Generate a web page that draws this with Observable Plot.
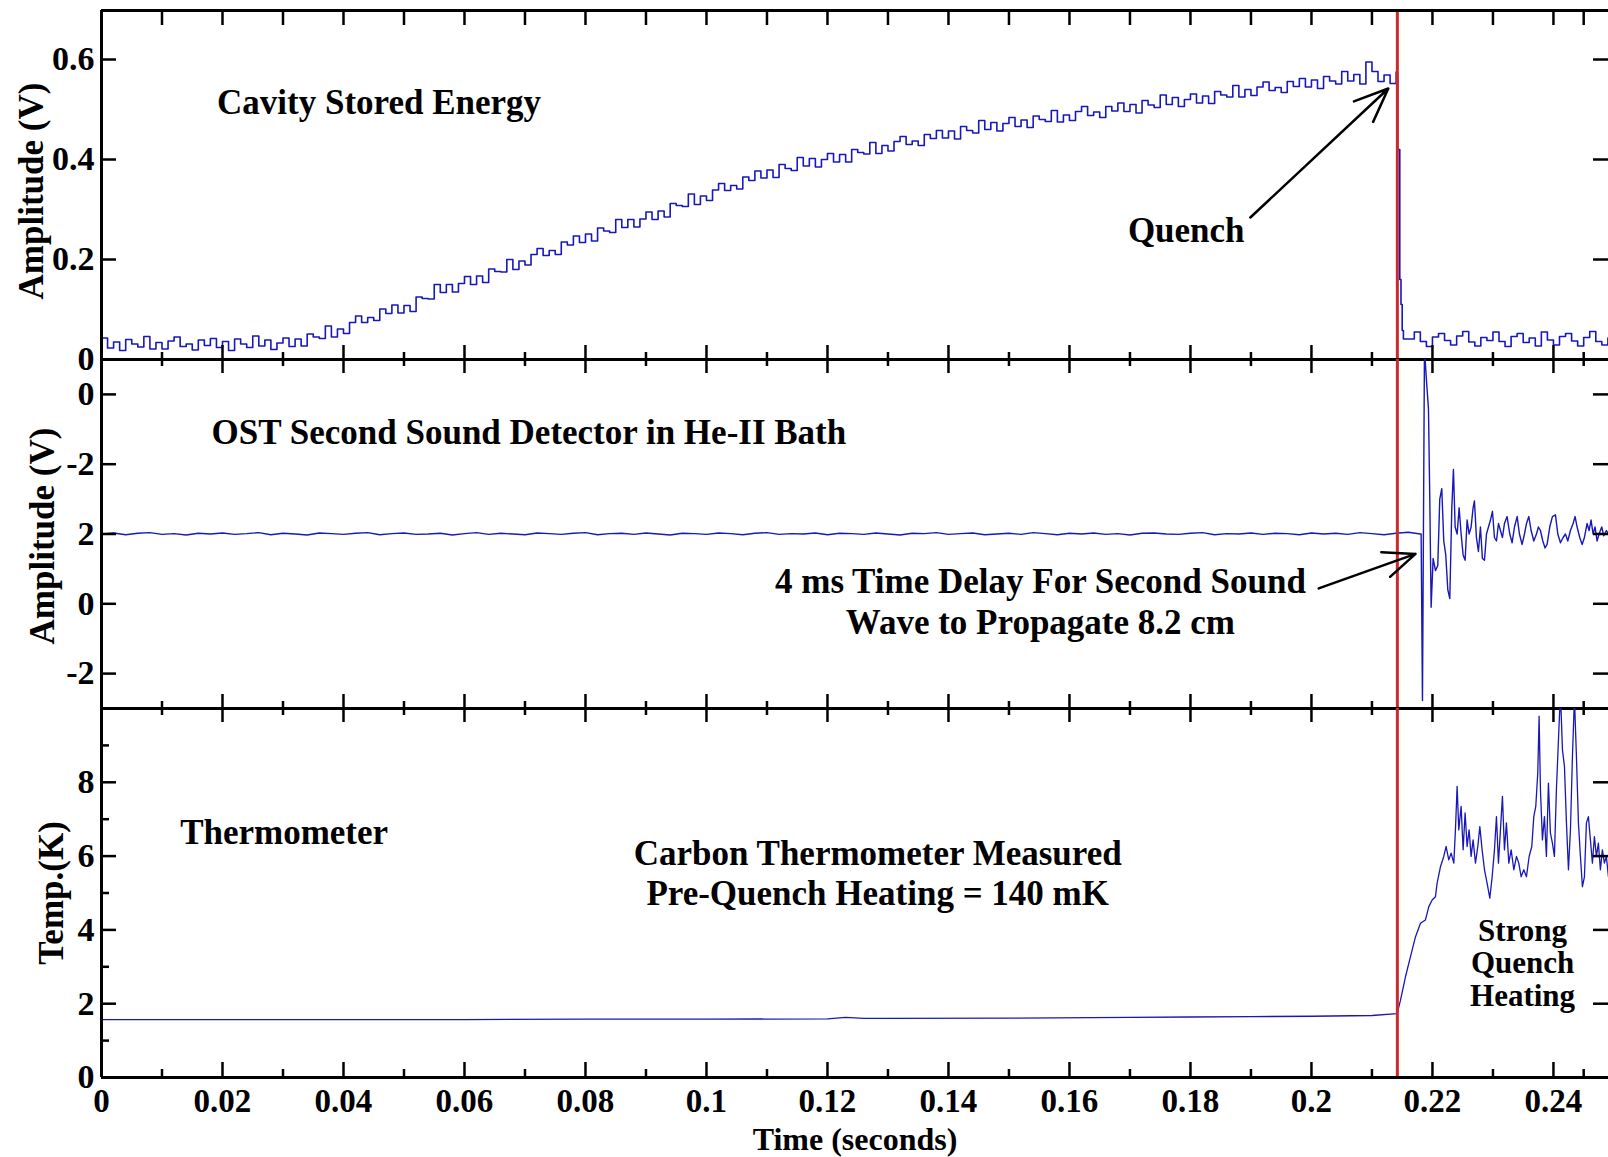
<!DOCTYPE html>
<html><head><meta charset="utf-8">
<script src="https://cdn.jsdelivr.net/npm/d3@7"></script>
<script src="https://cdn.jsdelivr.net/npm/@observablehq/plot@0.6"></script>
<style>
html,body{margin:0;padding:0;background:#fff;}
#chart{position:relative;width:1608px;height:1157px;overflow:hidden;background:#fff;}
#chart svg{position:absolute;left:0;}
</style></head><body><div id="chart"></div>
<script>
// ---------------- DATA ----------------
const quenchTime = 0.2142;

// x axis
const xMajor = [0, 0.02, 0.04, 0.06, 0.08, 0.1, 0.12, 0.14, 0.16, 0.18, 0.2, 0.22, 0.24];
const xMinor = [0.01, 0.03, 0.05, 0.07, 0.09, 0.11, 0.13, 0.15, 0.17, 0.19, 0.21, 0.23, 0.245];
const xTickLabels = ["0", "0.02", "0.04", "0.06", "0.08", "0.1", "0.12", "0.14", "0.16", "0.18", "0.2", "0.22", "0.24"];

// Panel 1: cavity stored energy (V), sampled every 1 ms from t = 0
const energySampleStep = 0.001;
const energyRise = [
  0.043,0.023,0.035,0.018,0.040,0.031,0.025,0.046,0.021,0.034,
  0.021,0.037,0.045,0.026,0.031,0.019,0.039,0.028,0.042,0.024,
  0.036,0.018,0.041,0.031,0.024,0.047,0.027,0.039,0.020,0.033,
  0.043,0.026,0.041,0.027,0.051,0.045,0.042,0.067,0.045,0.061,
  0.052,0.074,0.087,0.074,0.084,0.078,0.101,0.092,0.109,0.093,
  0.108,0.096,0.125,0.122,0.121,0.150,0.134,0.150,0.135,0.152,
  0.166,0.150,0.167,0.154,0.181,0.176,0.175,0.200,0.180,0.197,
  0.189,0.210,0.222,0.208,0.218,0.210,0.235,0.229,0.247,0.234,
  0.251,0.237,0.263,0.257,0.254,0.280,0.264,0.280,0.265,0.281,
  0.295,0.280,0.297,0.285,0.312,0.308,0.306,0.331,0.310,0.327,
  0.318,0.339,0.352,0.338,0.348,0.341,0.365,0.358,0.377,0.363,
  0.379,0.364,0.390,0.382,0.378,0.404,0.387,0.402,0.385,0.400,
  0.412,0.395,0.410,0.395,0.420,0.414,0.411,0.434,0.412,0.428,
  0.417,0.436,0.446,0.430,0.437,0.428,0.450,0.442,0.458,0.443,
  0.457,0.441,0.466,0.458,0.453,0.478,0.460,0.474,0.457,0.472,
  0.484,0.466,0.479,0.464,0.487,0.480,0.476,0.498,0.475,0.489,
  0.478,0.496,0.506,0.488,0.495,0.484,0.506,0.497,0.513,0.496,
  0.510,0.493,0.518,0.509,0.504,0.529,0.510,0.524,0.506,0.520,
  0.531,0.513,0.527,0.512,0.536,0.529,0.525,0.548,0.525,0.540,
  0.528,0.545,0.555,0.538,0.544,0.534,0.556,0.546,0.562,0.545,
  0.559,0.542,0.566,0.557,0.551,0.576,0.557,0.570,0.551,0.595,
  0.576,0.556,0.569,0.552,0.575
];
const energyDropT = [0.2142, 0.21425, 0.21444, 0.2146, 0.2148, 0.2150, 0.2152];
const energyDropV = [0.566, 0.420, 0.420, 0.160, 0.110, 0.058, 0.041];
const energyTailStart = 0.216;
const energyTail = [
  0.041,0.055,0.036,0.026,0.045,0.052,0.038,0.029,0.047,0.056,
  0.035,0.027,0.044,0.038,0.055,0.036,0.026,0.046,0.052,0.034,
  0.043,0.027,0.055,0.039,0.029,0.046,0.052,0.037,0.027,0.044,
  0.056,0.036,0.029,0.043
];

// Panel 2: OST second sound detector (V), before the wave arrives, every 2 ms
const ostSampleStep = 0.002;
const ostBefore = [
  2.00,2.03,1.98,2.02,2.04,1.99,2.01,1.97,2.02,2.00,
  2.03,1.99,2.01,2.04,1.98,2.02,2.00,1.97,2.03,2.01,
  1.99,2.02,2.04,1.98,2.01,2.03,1.99,2.00,2.02,1.97,
  2.01,2.04,1.99,2.02,2.00,1.98,2.03,2.01,1.99,2.02,
  2.04,1.98,2.01,2.02,1.99,2.03,2.00,1.97,2.02,2.01,
  1.99,2.03,2.01,1.98,2.02,2.04,1.99,2.01,2.00,2.03,
  1.98,2.02,2.01,1.99,2.03,2.00,1.97,2.02,2.01,2.04,
  1.99,2.01,2.03,1.98,2.00,2.02,1.99,2.04,2.01,1.98,
  2.02,2.00,2.03,1.99,2.01,1.97,2.02,2.03,2.00,1.99,
  2.02,2.04,1.98,2.01,2.00,2.03,1.99,2.02,2.01,1.98,
  2.03,2.00,2.02,1.99,2.04,2.01,1.98,2.02,2.05,2.00
];
const ostRingT = [
  0.21813,0.21835,0.21868,0.21901,0.21934,0.21956,0.21978,0.22011,0.2205,0.22088,
  0.22121,0.22154,0.22187,0.2222,0.22254,0.22287,0.2232,0.22347,0.22375,0.22408,
  0.22441,0.22474,0.22507,0.2254,0.22573,0.22606,0.22639,0.22672,0.22694,0.22727,
  0.2276,0.22793,0.22826,0.2286,0.22893,0.22926,0.22959,0.22992,0.23025,0.23058,
  0.23091,0.23124,0.23157,0.2319,0.23234,0.23278,0.23317,0.23356,0.234,0.23438,
  0.23482,0.23521,0.23554,0.23593,0.23631,0.23675,0.23719,0.23752,0.23785,0.23824,
  0.23862,0.23895,0.23939,0.23983,0.24033,0.24072,0.24116,0.2416,0.24198,0.24237,
  0.24281,0.24325,0.24358,0.24391,0.24435,0.24474,0.24512,0.24556,0.24589,0.24622,
  0.24655,0.24688,0.24721,0.24754,0.24798,0.24832,0.24875,0.24909
];
const ostRingV = [
  2.0,-2.77,7.3,6.4,5.6,3.0,-0.1,1.3,0.95,1.1,
  3.0,3.3,1.8,1.4,0.4,0.15,2.75,3.85,2.2,2.0,
  2.75,2.0,1.4,1.25,2.4,2.0,2.2,2.75,2.95,1.9,
  1.5,2.2,1.3,1.25,2.0,2.2,2.4,2.65,1.9,1.8,
  2.3,2.1,1.9,2.3,2.5,2.0,1.75,2.2,2.5,2.0,
  1.7,2.0,2.3,2.5,2.1,1.8,2.0,2.2,2.1,1.8,
  1.6,1.7,2.2,2.5,2.55,2.0,1.75,1.9,2.0,1.8,
  2.1,2.3,2.5,2.2,1.9,1.7,1.9,2.3,2.1,2.4,
  2.0,2.2,1.8,2.0,2.2,1.95,2.1,2.0
];

// Panel 3: carbon thermometer (K)
const tempBeforeT = [0, 0.02, 0.04, 0.06, 0.08, 0.1, 0.12, 0.123, 0.126, 0.13, 0.15, 0.17, 0.18, 0.19, 0.2, 0.21];
const tempBeforeV = [1.57, 1.57, 1.57, 1.57, 1.58, 1.58, 1.59, 1.63, 1.60, 1.60, 1.61, 1.63, 1.64, 1.65, 1.66, 1.68];
const tempAfterT = [
  0.21416,0.21471,0.21554,0.21636,0.21719,0.21802,0.21884,0.2194,0.21995,0.2205,
  0.22077,0.22132,0.22187,0.22226,0.2227,0.22309,0.22353,0.2238,0.22408,0.22435,
  0.22474,0.22507,0.2254,0.22573,0.22606,0.22639,0.22672,0.22711,0.2275,0.22783,
  0.22821,0.2286,0.22904,0.22948,0.22987,0.23025,0.23058,0.23091,0.23124,0.23157,
  0.2319,0.23223,0.23262,0.23301,0.23345,0.23389,0.23427,0.23466,0.2351,0.23554,
  0.23598,0.23642,0.23675,0.23708,0.23741,0.23763,0.23785,0.23818,0.23851,0.23884,
  0.23917,0.2395,0.23983,0.24016,0.24049,0.24094,0.24116,0.24149,0.24182,0.24215,
  0.24248,0.24281,0.24314,0.24347,0.2438,0.24413,0.24446,0.24479,0.24512,0.24545,
  0.24578,0.24611,0.24644,0.24677,0.2471,0.24743,0.24776,0.24809,0.24842,0.24875,
  0.24909
];
const tempAfterV = [
  1.73,2.09,2.73,3.27,3.81,4.18,4.27,4.63,4.81,4.9,
  5.27,5.71,5.99,6.26,5.9,6.08,5.81,6.71,7.89,6.71,
  7.35,6.17,7.17,6.26,6.71,5.99,6.44,5.81,6.26,6.8,
  6.17,5.63,5.26,4.86,5.44,6.17,7.07,5.81,6.71,7.62,
  6.17,6.9,5.81,6.17,5.63,5.99,5.81,5.44,5.63,5.44,
  5.99,6.26,7.07,7.35,8.26,9.79,7.8,6.44,7.07,5.99,
  7.98,6.62,6.35,5.99,7.8,9.6,10.4,8.88,8.43,6.9,
  5.63,6.71,8.7,10.3,8.7,6.9,5.99,5.17,5.44,6.9,
  7.07,6.44,5.81,6.53,5.99,6.35,5.63,6.17,5.81,5.99,
  5.44
];

// y ticks
const energyTicks = [0.2, 0.4, 0.6];
const energyLabelValues = [0, 0.2, 0.4, 0.6];
const energyLabels = ["0", "0.2", "0.4", "0.6"];
const ostTicks = [6, 4, 2, 0, -2];
const ostLabels = ["0", "-2", "2", "0", "-2"];
const tempMajor = [2, 4, 6, 8];
const tempMinor = [1, 3, 5, 7, 9];
const tempLabelValues = [0, 2, 4, 6, 8];
const tempLabels = ["0", "2", "4", "6", "8"];

// annotations
const energyTitle = [{t: 0.0191, v: 0.513, label: "Cavity Stored Energy"}];
const energyNotes = [{t: 0.1793, v: 0.258, label: "Quench"}];
const energyArrow = [{t1: 0.1899, v1: 0.284, t2: 0.2127, v2: 0.542}];
const ostTitle = [{t: 0.0182, v: 4.9, label: "OST Second Sound Detector in He-II Bath"}];
const ostNotes = [
  {t: 0.1552, v: 0.62, label: "4 ms Time Delay For Second Sound"},
  {t: 0.1552, v: -0.53, label: "Wave to Propagate 8.2 cm"}
];
const ostArrow = [{t1: 0.2012, v1: 0.44, t2: 0.2172, v2: 1.43}];
const tempTitle = [{t: 0.0130, v: 6.64, label: "Thermometer"}];
const tempNotes = [
  {t: 0.1283, v: 6.07, label: "Carbon Thermometer Measured"},
  {t: 0.1283, v: 4.99, label: "Pre-Quench Heating = 140 mK"}
];
const tempSideNotes = [
  {t: 0.2349, v: 3.98, label: "Strong"},
  {t: 0.2349, v: 3.09, label: "Quench"},
  {t: 0.2349, v: 2.20, label: "Heating"}
];

// ---------------- BUILD ROWS ----------------
const energyData = [
  ...energyRise.map((v, i) => ({t: i * energySampleStep, v})),
  ...energyDropT.map((t, i) => ({t, v: energyDropV[i]})),
  ...energyTail.map((v, i) => ({t: energyTailStart + i * energySampleStep, v}))
];
const ostData = [
  ...ostBefore.map((v, i) => ({t: i * ostSampleStep, v})),
  ...ostRingT.map((t, i) => ({t, v: ostRingV[i]}))
];
const tempData = [
  ...tempBeforeT.map((t, i) => ({t, v: tempBeforeV[i]})),
  ...tempAfterT.map((t, i) => ({t, v: tempAfterV[i]}))
];

// ---------------- STYLE / LAYOUT ----------------
const W = 1608, ML = 101, MR = 0;
const innerW = W - ML - MR;
const xDomain = [0, 0.2491];
const FONT = "'Liberation Serif','Times New Roman',Times,serif";
const TRACE = "#1818b8";
const RED = "#cc2a2a";
const TW = 2.5; // tick stroke width

function xTickMarks(innerH, side, majorLen, minorLen) {
  const inset = len => side === "top" ? {insetBottom: innerH - len} : {insetTop: innerH - len};
  return [
    Plot.ruleX(xMajor, {x: d => d, stroke: "black", strokeWidth: TW, ...inset(majorLen)}),
    Plot.ruleX(xMinor, {x: d => d, stroke: "black", strokeWidth: TW, ...inset(minorLen)})
  ];
}
function yTickMarks(values, len) {
  return [
    Plot.ruleY(values, {y: d => d, stroke: "black", strokeWidth: TW, insetRight: innerW - len}),
    Plot.ruleY(values, {y: d => d, stroke: "black", strokeWidth: TW, insetLeft: innerW - len})
  ];
}
function yLabels(values, labels) {
  return Plot.text(values, {y: d => d, text: (d, i) => labels[i], frameAnchor: "left", dx: -7,
    textAnchor: "end", lineAnchor: "middle", fontSize: 34, fontWeight: "bold"});
}
function yTitle(label, dx, dy) {
  return Plot.text([label], {frameAnchor: "left", rotate: -90, dx, dy, textAnchor: "middle",
    lineAnchor: "middle", fontSize: 35, fontWeight: "bold"});
}
function note(data, anchor, size = 35) {
  return Plot.text(data, {x: "t", y: "v", text: "label", textAnchor: anchor, fontSize: size, fontWeight: "bold"});
}
function arrow(data) {
  return Plot.arrow(data, {x1: "t1", y1: "v1", x2: "t2", y2: "v2", stroke: "black",
    strokeWidth: 2.5, headLength: 22, headAngle: 45});
}

function panel({top, height, marginTop, marginBottom, yDomain, marks}) {
  const svg = Plot.plot({
    width: W, height, marginLeft: ML, marginRight: MR, marginTop, marginBottom,
    x: {domain: xDomain, axis: null},
    y: {domain: yDomain, axis: null},
    style: {background: "transparent", overflow: "visible", fontFamily: FONT, color: "black"},
    marks
  });
  svg.style.top = top + "px";
  document.getElementById("chart").append(svg);
}

// Panel 1
{
  const yDomain = [0, 0.698];
  const innerH = 349;
  panel({top: 0, height: 362, marginTop: 10, marginBottom: 3, yDomain, marks: [
    Plot.line(energyData, {x: "t", y: "v", stroke: TRACE, strokeWidth: 1.6, curve: "step-after", clip: true}),
    Plot.ruleX([quenchTime], {stroke: RED, strokeWidth: 3}),
    ...xTickMarks(innerH, "top", 15, 15),
    ...xTickMarks(innerH, "bottom", 14, 7),
    ...yTickMarks(energyTicks, 15),
    Plot.ruleX([0], {stroke: "black", strokeWidth: 3}),
    Plot.ruleY([yDomain[1]], {stroke: "black", strokeWidth: 3}),
    Plot.ruleY([yDomain[0]], {stroke: "black", strokeWidth: 3}),
    yLabels(energyLabelValues, energyLabels),
    yTitle("Amplitude (V)", -70, 6),
    note(energyTitle, "start"),
    note(energyNotes, "middle"),
    arrow(energyArrow)
  ]});
}

// Panel 2
{
  const yDomain = [-3.0, 7.0];
  const innerH = 349;
  panel({top: 356, height: 355, marginTop: 3, marginBottom: 3, yDomain, marks: [
    Plot.line(ostData, {x: "t", y: "v", stroke: TRACE, strokeWidth: 1.4, clip: true}),
    Plot.ruleX([quenchTime], {stroke: RED, strokeWidth: 3}),
    ...xTickMarks(innerH, "top", 14, 7),
    ...xTickMarks(innerH, "bottom", 14, 7),
    ...yTickMarks(ostTicks, 15),
    Plot.ruleX([0], {stroke: "black", strokeWidth: 3}),
    Plot.ruleY([yDomain[0]], {stroke: "black", strokeWidth: 3}),
    yLabels(ostTicks, ostLabels),
    yTitle("Amplitude (V)", -59, 2),
    note(ostTitle, "start"),
    note(ostNotes, "middle"),
    arrow(ostArrow)
  ]});
}

// Panel 3
{
  const yDomain = [0, 10];
  const innerH = 369;
  panel({top: 705, height: 452, marginTop: 3, marginBottom: 80, yDomain, marks: [
    Plot.line(tempData, {x: "t", y: "v", stroke: TRACE, strokeWidth: 1.3, clip: true}),
    Plot.ruleX([quenchTime], {stroke: RED, strokeWidth: 3}),
    ...xTickMarks(innerH, "top", 14, 7),
    ...xTickMarks(innerH, "bottom", 15, 8),
    ...yTickMarks(tempMajor, 15),
    Plot.ruleY(tempMinor, {y: d => d, stroke: "black", strokeWidth: TW, insetRight: innerW - 8}),
    Plot.ruleX([0], {stroke: "black", strokeWidth: 3}),
    Plot.ruleY([yDomain[0]], {stroke: "black", strokeWidth: 3}),
    yLabels(tempLabelValues, tempLabels),
    yTitle("Temp.(K)", -50, 0),
    note(tempTitle, "start"),
    note(tempNotes, "middle"),
    note(tempSideNotes, "middle", 31),
    Plot.text(xMajor, {x: d => d, text: (d, i) => xTickLabels[i], frameAnchor: "bottom", dy: 24,
      lineAnchor: "middle", fontSize: 33, fontWeight: "bold"}),
    Plot.text(["Time (seconds)"], {frameAnchor: "bottom", dy: 62, lineAnchor: "middle",
      fontSize: 32, fontWeight: "bold"})
  ]});
}
</script></body></html>
